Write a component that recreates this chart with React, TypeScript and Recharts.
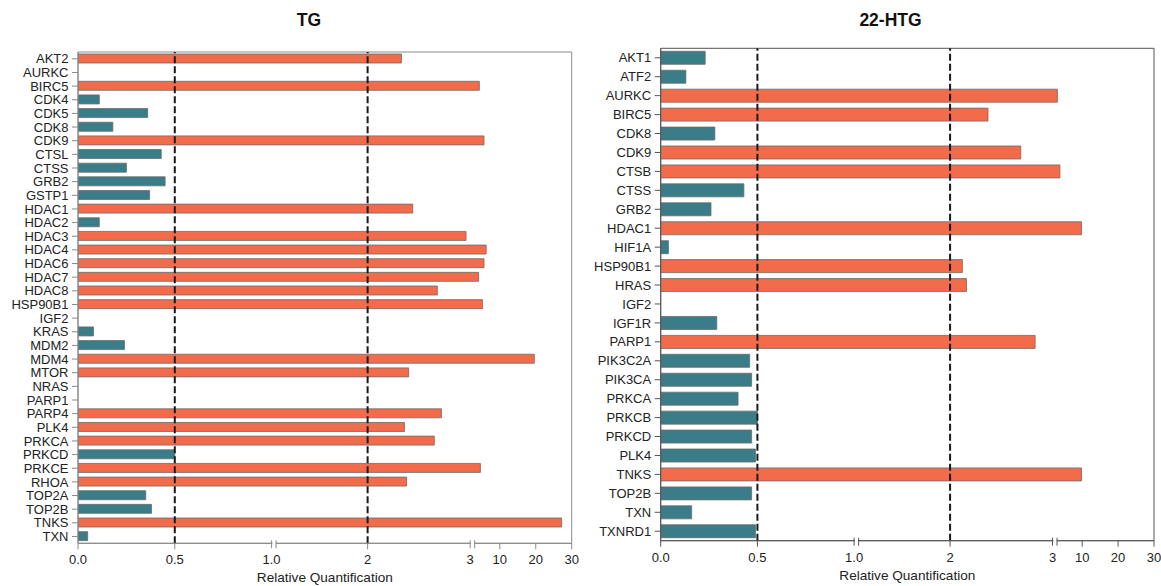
import { BarChart, Bar, XAxis, YAxis, Cell, ReferenceLine, ReferenceArea } from "recharts";

const TG_GENES = [
  "AKT2", "AURKC", "BIRC5", "CDK4", "CDK5", "CDK8", "CDK9", "CTSL", "CTSS",
  "GRB2", "GSTP1", "HDAC1", "HDAC2", "HDAC3", "HDAC4", "HDAC6", "HDAC7",
  "HDAC8", "HSP90B1", "IGF2", "KRAS", "MDM2", "MDM4", "MTOR", "NRAS", "PARP1",
  "PARP4", "PLK4", "PRKCA", "PRKCD", "PRKCE", "RHOA", "TOP2A", "TOP2B", "TNKS", "TXN",
];
const TG_VALUES = [
  2.33, 0, 4.3, 0.11, 0.36, 0.18, 5.6, 0.43, 0.25,
  0.45, 0.37, 2.44, 0.11, 2.96, 6.2, 5.6, 4.1,
  2.68, 5.2, 0, 0.08, 0.24, 19.6, 2.4, 0, 0,
  2.72, 2.36, 2.65, 0.5, 4.6, 2.38, 0.35, 0.38, 27.2, 0.05,
];

const HTG_GENES = [
  "AKT1", "ATF2", "AURKC", "BIRC5", "CDK8", "CDK9", "CTSB", "CTSS", "GRB2",
  "HDAC1", "HIF1A", "HSP90B1", "HRAS", "IGF2", "IGF1R", "PARP1", "PIK3C2A",
  "PIK3CA", "PRKCA", "PRKCB", "PRKCD", "PLK4", "TNKS", "TOP2B", "TXN", "TXNRD1",
];
const HTG_VALUES = [
  0.23, 0.13, 3.1, 2.37, 0.28, 2.69, 3.8, 0.43, 0.26,
  9.8, 0.04, 2.12, 2.16, 0, 0.29, 2.83, 0.46,
  0.47, 0.4, 0.5, 0.47, 0.49, 9.8, 0.47, 0.16, 0.49,
];

const TICK_VALUES = [0, 0.5, 1, 2, 3, 10, 20, 30];
const TICK_LABELS = ["0.0", "0.5", "1.0", "2", "3", "10", "20", "30"];
const BREAKS = [1, 3];
const CUTOFFS = [0.5, 2];

const UP = "#f26c4b";
const DOWN = "#3a7c88";

// broken x axis: three linear pieces, gaps between them for the break marks
const AXIS_PIECES = [
  { v: [0, 1], p: [0, 193.5] },
  { v: [1, 2, 3], p: [197.5, 289.5, 392] },
  { v: [3, 30], p: [396.5, 493.5] },
];
const AXIS_MAX = 493.5;

function toAxis(v: number) {
  for (const piece of AXIS_PIECES) {
    if (v > piece.v[piece.v.length - 1]) continue;
    for (let i = 1; i < piece.v.length; i++) {
      if (v <= piece.v[i]) {
        const t = (v - piece.v[i - 1]) / (piece.v[i] - piece.v[i - 1]);
        return piece.p[i - 1] + t * (piece.p[i] - piece.p[i - 1]);
      }
    }
  }
  return AXIS_MAX;
}

const TICK_POS = TICK_VALUES.map(toAxis);

function BrokenTick(props: any) {
  const { x, y, payload, color } = props;
  const i = TICK_POS.findIndex((p) => Math.abs(p - payload.value) < 1e-6);
  if (i < 0) return null;
  const isBreak = BREAKS.includes(TICK_VALUES[i]);
  return (
    <g>
      {isBreak ? (
        <g>
          <rect x={x + 0.8} y={y - 2} width={3.4} height={4} fill="#fff" />
          <line x1={x} x2={x} y1={y - 3} y2={y + 5} stroke={color} strokeWidth={1} />
          <line x1={x + 4.5} x2={x + 4.5} y1={y - 3} y2={y + 5} stroke={color} strokeWidth={1} />
        </g>
      ) : (
        <line x1={x} x2={x} y1={y} y2={y + 6} stroke={color} strokeWidth={1} />
      )}
      <text x={x} y={y + 21} textAnchor="middle" fontSize={13} fill="#222">
        {TICK_LABELS[i]}
      </text>
    </g>
  );
}

interface PanelProps {
  title: string;
  titleX: number;
  genes: string[];
  values: number[];
  width: number;
  left: number;
  top: number;
  right: number;
  axisHeight: number;
  labelOffset: number;
  barSize: number;
  frame: string;
}

function Panel({
  title, titleX, genes, values, width, left, top, right, axisHeight, labelOffset, barSize, frame,
}: PanelProps) {
  const rows = genes.map((gene, i) => ({ gene, value: values[i], pos: toAxis(values[i]) }));
  return (
    <div style={{ position: "relative", width, height: 586 }}>
      <div
        style={{
          position: "absolute",
          left: titleX - 60,
          width: 120,
          top: 11,
          lineHeight: "19px",
          textAlign: "center",
          fontSize: 17.5,
          fontWeight: "bold",
          color: "#111",
        }}
      >
        {title}
      </div>
      <BarChart
        layout="vertical"
        width={width}
        height={586}
        data={rows}
        margin={{ top, right, bottom: 0, left }}
        barSize={barSize}
      >
        <XAxis
          type="number"
          dataKey="pos"
          domain={[0, AXIS_MAX]}
          allowDataOverflow
          ticks={TICK_POS}
          interval={0}
          height={axisHeight}
          tickSize={0}
          tickMargin={0}
          tickLine={false}
          axisLine={{ stroke: frame }}
          tick={(p: any) => <BrokenTick {...p} color={frame} />}
          label={{
            value: "Relative Quantification",
            position: "insideBottom",
            offset: labelOffset,
            fontSize: 13.6,
            fill: "#222",
          }}
        />
        <YAxis
          type="category"
          dataKey="gene"
          width={72}
          interval={0}
          tickSize={6}
          tickMargin={3.5}
          tick={{ fontSize: 13, fill: "#222" }}
          tickLine={{ stroke: frame }}
          axisLine={{ stroke: frame }}
        />
        {/* box around the plot */}
        <ReferenceArea
          x1={0}
          x2={AXIS_MAX}
          fill="none"
          fillOpacity={0}
          stroke={frame}
          strokeWidth={1}
        />
        <Bar dataKey="pos" stroke="#6b6b6b" strokeWidth={0.8} isAnimationActive={false}>
          {rows.map((r) => (
            <Cell key={r.gene} fill={r.value > 1 ? UP : DOWN} />
          ))}
        </Bar>
        {CUTOFFS.map((c) => (
          <ReferenceLine
            key={c}
            x={toAxis(c)}
            stroke="#1a1a1a"
            strokeWidth={2}
            strokeDasharray="7 3"
          />
        ))}
      </BarChart>
    </div>
  );
}

export default function App() {
  return (
    <div
      style={{
        position: "absolute",
        left: 0,
        top: 0,
        width: 1161,
        height: 586,
        background: "#fff",
        fontFamily: "'Liberation Sans', Arial, sans-serif",
      }}
    >
      <div style={{ position: "absolute", left: 0, top: 0 }}>
        <Panel
          title="TG"
          titleX={309}
          genes={TG_GENES}
          values={TG_VALUES}
          width={580}
          left={6}
          top={52}
          right={8.3}
          axisHeight={42.7}
          labelOffset={4}
          barSize={9}
          frame="#8a8a8a"
        />
      </div>
      <div style={{ position: "absolute", left: 580, top: 0 }}>
        <Panel
          title="22-HTG"
          titleX={310.5}
          genes={HTG_GENES}
          values={HTG_VALUES}
          width={581}
          left={8.7}
          top={48.3}
          right={7}
          axisHeight={45.3}
          labelOffset={6.5}
          barSize={13}
          frame="#555555"
        />
      </div>
    </div>
  );
}
